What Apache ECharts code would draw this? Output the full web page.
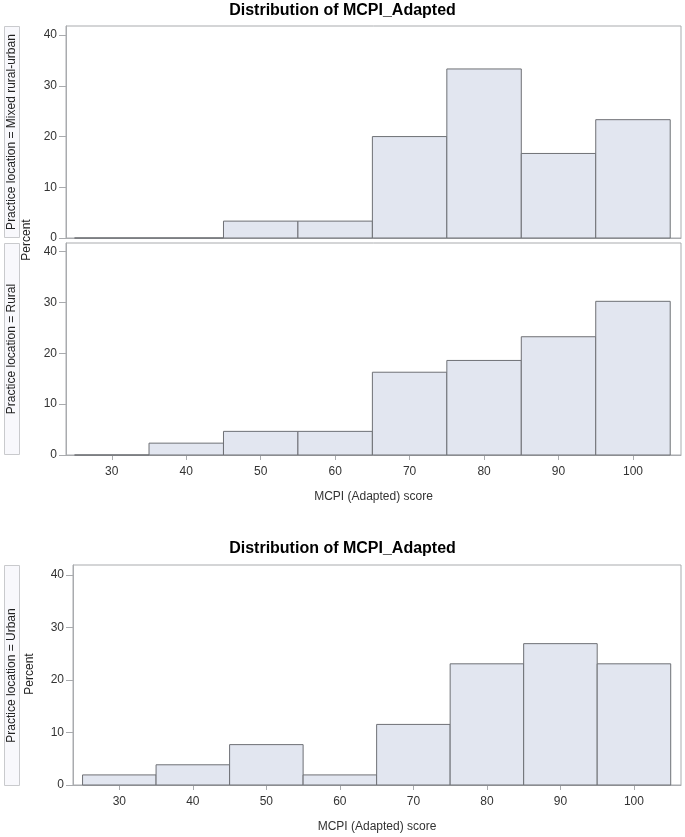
<!DOCTYPE html>
<html>
<head>
<meta charset="utf-8">
<script src="https://cdn.jsdelivr.net/npm/echarts@6/dist/echarts.min.js"></script>
<style>
html,body{margin:0;padding:0;background:#fff;}
#c{width:685px;height:837px;}
</style>
</head>
<body>
<div id="c"></div>
<script>
// ---- data ----
const binStarts = [25, 35, 45, 55, 65, 75, 85, 95];
const binEnds   = [35, 45, 55, 65, 75, 85, 95, 105];
const mixedPct  = [0, 0, 3.33, 3.33, 20.0, 33.33, 16.67, 23.33];
const ruralPct  = [0, 2.33, 4.65, 4.65, 16.28, 18.6, 23.26, 30.23];
const urbanPct  = [1.92, 3.85, 7.69, 1.92, 11.54, 23.08, 26.92, 23.08];
const xTicks = [30, 40, 50, 60, 70, 80, 90, 100];
const yTicks = [0, 10, 20, 30, 40];
const titleText = 'Distribution of MCPI_Adapted';
const xTitle = 'MCPI (Adapted) score';
const yTitle = 'Percent';
const stripLabels = ['Practice location = Mixed rural-urban', 'Practice location = Rural', 'Practice location = Urban'];

const FONT = '"Liberation Sans", Arial, sans-serif';
const fill = '#E2E6F0';
const stroke = '#6e7075';
const frame = '#a9abae';

function toData(vals) {
  return vals.map((v, i) => [binStarts[i], binEnds[i], v]);
}

const grids = [
  {left: 66, top: 26, width: 615, height: 212, show: true, borderColor: frame, borderWidth: 1},
  {left: 66, top: 243, width: 615, height: 212, show: true, borderColor: frame, borderWidth: 1},
  {left: 73, top: 565, width: 608, height: 220, show: true, borderColor: frame, borderWidth: 1}
];
const xRanges = [[23.85, 106.45], [23.85, 106.45], [23.7, 106.4]];
const yMax = [41.8, 41.7, 41.9];

const xAxes = grids.map((g, i) => ({
  type: 'value', gridIndex: i, min: xRanges[i][0], max: xRanges[i][1],
  splitLine: {show: false},
  axisLine: {show: true, lineStyle: {color: frame}},
  axisTick: {show: i !== 0, length: 5, lineStyle: {color: frame}, customValues: xTicks},
  axisLabel: {show: i !== 0, customValues: xTicks, color: '#333', fontSize: 12, fontFamily: FONT, margin: 11},
  name: i === 0 ? '' : xTitle, nameLocation: 'middle', nameGap: 36,
  nameTextStyle: {color: '#333', fontSize: 12, fontFamily: FONT}
}));
const yAxes = grids.map((g, i) => ({
  type: 'value', gridIndex: i, min: 0, max: yMax[i],
  splitLine: {show: false},
  axisLine: {show: true, lineStyle: {color: frame}},
  axisTick: {show: true, length: 7, lineStyle: {color: frame}, customValues: yTicks},
  axisLabel: {customValues: yTicks, color: '#333', fontSize: 12, fontFamily: FONT, margin: 9}
}));

function renderItem(params, api) {
  const p0 = api.coord([api.value(0), api.value(2)]);
  const p1 = api.coord([api.value(1), 0]);
  return {
    type: 'rect',
    shape: {x: p0[0], y: p0[1], width: p1[0] - p0[0], height: Math.max(p1[1] - p0[1], 0.01)},
    style: {fill: fill, stroke: stroke, lineWidth: 1}
  };
}

const series = [mixedPct, ruralPct, urbanPct].map((vals, i) => ({
  type: 'custom', xAxisIndex: i, yAxisIndex: i, renderItem: renderItem,
  encode: {x: [0, 1], y: 2}, data: toData(vals), clip: false
}));

function strip(x, y, w, h, text) {
  return {
    type: 'group', children: [
      {type: 'rect', shape: {x: x, y: y, width: w, height: h}, style: {fill: '#f8f8fc', stroke: '#c9cacd', lineWidth: 1}},
      {type: 'text', x: x + w / 2, y: y + h / 2, rotation: Math.PI / 2,
       style: {text: text, fill: '#222', font: '12px ' + FONT, align: 'center', verticalAlign: 'middle'}}
    ]
  };
}

const graphic = [
  {type: 'text', x: 342.5, y: 11, style: {text: titleText, fill: '#000', font: 'bold 16px ' + FONT, align: 'center', verticalAlign: 'middle'}},
  {type: 'text', x: 342.5, y: 549, style: {text: titleText, fill: '#000', font: 'bold 16px ' + FONT, align: 'center', verticalAlign: 'middle'}},
  strip(4.5, 26.5, 15, 211, stripLabels[0]),
  strip(4.5, 243.5, 15, 211, stripLabels[1]),
  strip(4.5, 565.5, 15, 220, stripLabels[2]),
  {type: 'text', x: 27, y: 240, rotation: Math.PI / 2, style: {text: yTitle, fill: '#222', font: '12px ' + FONT, align: 'center', verticalAlign: 'middle'}},
  {type: 'text', x: 30, y: 674, rotation: Math.PI / 2, style: {text: yTitle, fill: '#222', font: '12px ' + FONT, align: 'center', verticalAlign: 'middle'}}
];

const chart = echarts.init(document.getElementById('c'), null, {renderer: 'canvas'});
chart.setOption({
  animation: false,
  backgroundColor: '#fff',
  grid: grids,
  xAxis: xAxes,
  yAxis: yAxes,
  series: series,
  graphic: graphic
});
</script>
</body>
</html>
